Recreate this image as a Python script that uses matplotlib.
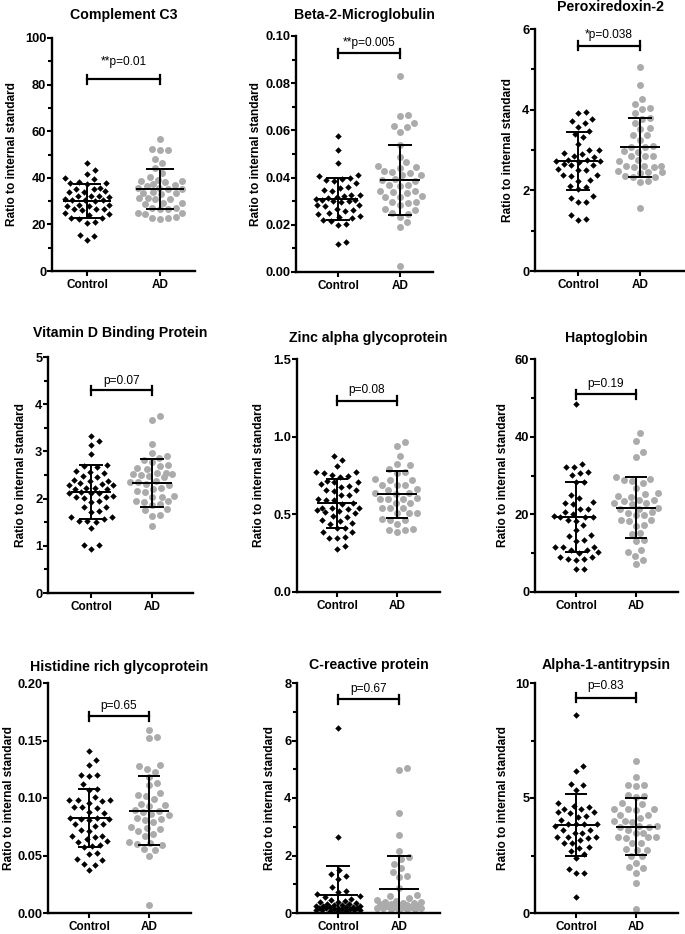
import numpy as np
import matplotlib
matplotlib.use("Agg")
import matplotlib.pyplot as plt
from matplotlib.ticker import MultipleLocator, FormatStrFormatter

plt.rcParams['font.family'] = ['Liberation Sans', 'DejaVu Sans']

#
# DATA
#
groups = ["Control", "AD"]
titles = ["Complement C3", "Beta-2-Microglobulin", "Peroxiredoxin-2",
          "Vitamin D Binding Protein", "Zinc alpha glycoprotein", "Haptoglobin",
          "Histidine rich glycoprotein", "C-reactive protein", "Alpha-1-antitrypsin"]
p_labels = ["**p=0.01", "**p=0.005", "*p=0.038", "p=0.07", "p=0.08",
            "p=0.19", "p=0.65", "p=0.67", "p=0.83"]

c3_control = [46.3, 43.4, 41.8, 39.8, 39.5, 38.2, 37.8, 37.5, 37.9, 35.6, 35.2,
              35.4, 34.0, 33.8, 34.2, 32.2, 32.0, 31.8, 32.4, 30.6, 30.3, 30.5,
              30.8, 30.1, 28.3, 28.0, 27.8, 28.5, 26.5, 26.2, 26.8, 26.4, 24.8,
              24.5, 24.2, 22.7, 22.4, 22.9, 20.8, 21.0, 15.3, 15.1, 13.1]
c3_ad = [56.7, 52.4, 51.8, 51.9, 48.0, 46.3, 44.2, 42.0, 40.5, 38.8, 38.6, 38.9,
         38.2, 37.0, 36.6, 37.3, 35.6, 35.3, 35.8, 35.1, 34.0, 33.4, 33.6, 33.1,
         31.5, 31.2, 30.8, 31.0, 29.3, 29.0, 28.7, 27.2, 26.8, 26.5, 27.0, 25.0,
         24.6, 24.8, 23.2, 22.6, 22.4, 22.8]

b2m_control = [0.0577, 0.0516, 0.0463, 0.0412, 0.0408, 0.0399, 0.0396, 0.0388,
               0.0384, 0.0376, 0.0362, 0.0358, 0.0348, 0.0345, 0.0328, 0.0325,
               0.0322, 0.0318, 0.0315, 0.0309, 0.0306, 0.0304, 0.0302, 0.0299,
               0.0296, 0.0286, 0.0283, 0.0279, 0.0266, 0.0262, 0.0258, 0.0249,
               0.0246, 0.0236, 0.0232, 0.0228, 0.0219, 0.0216, 0.0203, 0.0198,
               0.0127, 0.0118]
b2m_ad = [0.0832, 0.0667, 0.0663, 0.0632, 0.0620, 0.0615, 0.0594, 0.0537, 0.0488,
          0.0465, 0.0448, 0.0444, 0.0442, 0.0427, 0.0424, 0.0421, 0.0411, 0.0409,
          0.0392, 0.0389, 0.0387, 0.0370, 0.0366, 0.0368, 0.0345, 0.0342, 0.0338,
          0.0336, 0.0320, 0.0316, 0.0318, 0.0298, 0.0296, 0.0294, 0.0284, 0.0266,
          0.0262, 0.0248, 0.0245, 0.0234, 0.0210, 0.0191, 0.0025]

prx2_control = [3.94, 3.91, 3.78, 3.73, 3.68, 3.58, 3.46, 3.39, 3.32, 3.16, 3.01,
                2.99, 2.93, 2.91, 2.84, 2.82, 2.75, 2.74, 2.72, 2.73, 2.71, 2.65,
                2.63, 2.62, 2.53, 2.51, 2.50, 2.39, 2.37, 2.36, 2.26, 2.24, 2.11,
                2.08, 2.04, 1.85, 1.82, 1.72, 1.70, 1.38, 1.29, 1.27]
prx2_ad = [5.05, 4.61, 4.27, 4.14, 4.04, 4.02, 3.91, 3.80, 3.78, 3.68, 3.55, 3.52,
           3.38, 3.36, 3.25, 3.09, 3.07, 3.08, 2.97, 2.95, 2.86, 2.84, 2.85, 2.74,
           2.72, 2.61, 2.60, 2.59, 2.61, 2.58, 2.47, 2.45, 2.46, 2.44, 2.35, 2.33,
           2.34, 2.22, 2.20, 1.55]

vdbp_control = [3.33, 3.22, 3.14, 2.95, 2.71, 2.69, 2.67, 2.58, 2.56, 2.55, 2.47,
                2.45, 2.40, 2.38, 2.37, 2.32, 2.31, 2.29, 2.28, 2.23, 2.22, 2.21,
                2.20, 2.13, 2.12, 2.12, 2.11, 2.04, 2.03, 2.05, 2.02, 1.94, 1.93,
                1.83, 1.82, 1.74, 1.72, 1.62, 1.60, 1.57, 1.53, 1.52, 1.51, 1.37,
                1.02, 1.01, 0.93]
vdbp_ad = [3.74, 3.66, 3.15, 2.96, 2.91, 2.87, 2.82, 2.78, 2.72, 2.70, 2.64, 2.62,
           2.55, 2.54, 2.53, 2.52, 2.51, 2.47, 2.45, 2.37, 2.36, 2.35, 2.31, 2.29,
           2.23, 2.21, 2.16, 2.14, 2.05, 2.04, 2.03, 1.95, 1.94, 1.93, 1.88, 1.86,
           1.77, 1.75, 1.66, 1.64, 1.42]

zag_control = [0.873, 0.852, 0.810, 0.775, 0.772, 0.768, 0.755, 0.748, 0.742,
               0.712, 0.708, 0.705, 0.698, 0.682, 0.678, 0.657, 0.655, 0.652,
               0.626, 0.622, 0.597, 0.594, 0.592, 0.572, 0.568, 0.542, 0.540,
               0.538, 0.536, 0.527, 0.524, 0.512, 0.508, 0.488, 0.485, 0.462,
               0.459, 0.441, 0.438, 0.413, 0.410, 0.387, 0.384, 0.354, 0.348,
               0.346, 0.298, 0.277]
zag_ad = [0.963, 0.942, 0.873, 0.824, 0.815, 0.792, 0.772, 0.768, 0.725, 0.722,
          0.720, 0.692, 0.690, 0.688, 0.660, 0.657, 0.640, 0.637, 0.634, 0.602,
          0.600, 0.598, 0.596, 0.575, 0.571, 0.542, 0.540, 0.538, 0.511, 0.508,
          0.506, 0.468, 0.465, 0.462, 0.440, 0.403, 0.400, 0.398, 0.386]

hp_control = [48.4, 32.9, 32.3, 32.2, 31.0, 30.6, 30.1, 28.4, 28.3, 25.0, 24.1,
              23.2, 22.8, 22.6, 21.5, 21.3, 20.7, 20.2, 19.5, 19.4, 19.3, 19.2,
              18.6, 18.4, 17.2, 15.9, 14.6, 14.5, 13.3, 13.2, 11.7, 11.6, 11.5,
              10.9, 10.7, 10.2, 10.0, 9.1, 8.9, 8.6, 8.2, 8.4, 6.0, 5.9]
hp_ad = [40.9, 39.0, 36.0, 34.7, 29.7, 29.2, 28.9, 28.6, 28.0, 26.7, 25.5, 25.3,
         24.6, 24.4, 23.8, 23.7, 23.5, 22.9, 22.8, 22.6, 21.6, 21.5, 21.3, 20.6,
         20.4, 19.9, 19.7, 18.6, 18.5, 18.3, 17.3, 17.1, 15.2, 15.0, 13.4, 13.2,
         10.8, 10.3, 9.2, 8.3, 7.1]

hrg_control = [0.141, 0.133, 0.129, 0.120, 0.120, 0.119, 0.112, 0.108, 0.107,
               0.101, 0.098, 0.098, 0.097, 0.098, 0.096, 0.092, 0.092, 0.091,
               0.088, 0.087, 0.083, 0.082, 0.082, 0.083, 0.081, 0.077, 0.076,
               0.077, 0.072, 0.071, 0.067, 0.067, 0.066, 0.064, 0.063, 0.062,
               0.059, 0.058, 0.057, 0.052, 0.051, 0.047, 0.046, 0.043, 0.042,
               0.037]
hrg_ad = [0.159, 0.153, 0.152, 0.129, 0.128, 0.125, 0.123, 0.118, 0.113, 0.111,
          0.104, 0.103, 0.102, 0.099, 0.095, 0.094, 0.093, 0.090, 0.089, 0.088,
          0.086, 0.085, 0.083, 0.082, 0.081, 0.079, 0.075, 0.074, 0.073, 0.071,
          0.069, 0.067, 0.062, 0.061, 0.060, 0.059, 0.056, 0.055, 0.050, 0.007]

crp_control = [6.45, 2.64, 1.48, 1.35, 1.30, 1.20, 0.92, 0.78, 0.72, 0.66, 0.58,
               0.55, 0.48, 0.44, 0.42, 0.40, 0.38, 0.36, 0.32, 0.30, 0.29, 0.27,
               0.26, 0.25, 0.24, 0.22, 0.21, 0.20, 0.19, 0.18, 0.17, 0.16, 0.15,
               0.14, 0.13, 0.12, 0.11, 0.10, 0.09, 0.08, 0.07, 0.06]
crp_ad = [5.05, 4.99, 3.48, 2.72, 2.16, 1.95, 1.88, 1.72, 1.55, 1.44, 1.27, 1.25,
          0.86, 0.61, 0.59, 0.52, 0.46, 0.42, 0.40, 0.38, 0.36, 0.34, 0.32, 0.30,
          0.29, 0.27, 0.25, 0.24, 0.22, 0.21, 0.20, 0.18, 0.17, 0.16, 0.15, 0.14,
          0.13, 0.12]

a1at_control = [8.61, 6.38, 6.16, 5.63, 5.56, 5.34, 4.80, 4.64, 4.62, 4.54, 4.52,
                4.38, 4.37, 4.35, 4.21, 4.19, 4.05, 3.88, 3.87, 3.86, 3.85, 3.77,
                3.63, 3.61, 3.49, 3.47, 3.31, 3.30, 3.29, 3.28, 3.19, 3.06, 3.04,
                2.85, 2.83, 2.69, 2.55, 2.41, 1.93, 1.74, 1.72, 0.69]
a1at_ad = [6.63, 5.92, 5.58, 5.55, 5.52, 5.13, 5.10, 5.06, 4.78, 4.75, 4.54, 4.53,
           4.52, 4.50, 4.28, 4.26, 4.13, 3.99, 3.97, 3.98, 3.78, 3.77, 3.76, 3.75,
           3.62, 3.49, 3.47, 3.31, 3.30, 3.29, 3.28, 3.06, 3.04, 2.78, 2.76, 2.75,
           2.49, 2.46, 2.19, 1.98, 1.97, 1.76, 1.30, 0.19]

control_values = [c3_control, b2m_control, prx2_control, vdbp_control,
                  zag_control, hp_control, hrg_control, crp_control, a1at_control]
ad_values = [c3_ad, b2m_ad, prx2_ad, vdbp_ad, zag_ad, hp_ad, hrg_ad, crp_ad,
             a1at_ad]

# mean and SD bars as drawn in the figure
mean_control = [29.9, 0.0308, 2.735, 2.14, 0.570, 19.3, 0.0827, 0.61, 3.82]
sd_control = [7.35, 0.0089, 0.715, 0.57, 0.158, 9.1, 0.0253, 1.01, 1.34]
mean_ad = [35.2, 0.0391, 3.07, 2.335, 0.629, 21.75, 0.089, 0.85, 3.76]
sd_ad = [8.6, 0.0148, 0.73, 0.505, 0.153, 7.95, 0.030, 1.15, 1.25]

bracket_y = [82.4, 0.0927, 5.58, 4.30, 1.232, 50.9, 0.171, 7.44, 9.35]
y_max = [100, 0.10, 6, 5, 1.5, 60, 0.20, 8, 10]
major_step = [20, 0.02, 2, 1, 0.5, 20, 0.05, 2, 5]
minor_step = [10, 0.01, 1, 0.5, None, 10, None, 1, 2.5]
decimals = [0, 2, 0, 0, 1, 0, 2, 0, 0]

#
# LAYOUT (pixels in a 685 x 934 image)
#
W, H = 685, 934
# left, right, top, bottom of each plot area; x of the two categories
boxes = [(52, 195, 38, 271), (296, 433, 36, 272), (535, 685, 29, 271),
         (48, 193, 357, 593), (297, 440, 359, 592), (535, 678, 359, 592),
         (48, 191, 683, 913), (297, 440, 683, 913), (535, 678, 683, 913)]
cat_px = [(87, 160), (338, 400), (578, 640),
          (91, 152), (337, 397), (576, 636),
          (89, 149), (338, 399), (576, 636)]
title_px = [15, 15, 7, 333, 338, 338, 667, 665, 665]
ylabel_px = [12, 256, 508, 21, 259, 503, 9, 270, 503]
p_gap_px = [17, 10, 11, 9, 10.5, 10, 10, 10, 12]

gray = "#ababab"


def swarm_offsets(vals, px_per_unit, diameter=8.0, max_half=22):
    # beeswarm: each point takes the closest free x slot, or the least crowded
    y = np.asarray(vals) * px_per_unit
    order = np.argsort(y)
    xs = np.zeros(len(y))
    cands = [0.0]
    for k in range(1, max_half + 1):
        cands += [float(k), float(-k)]
    px, py = [], []
    for i in order:
        ax_ = np.array(px)
        ay_ = np.array(py)
        near = np.abs(ay_ - y[i]) < diameter if len(ay_) else np.zeros(0, bool)
        best, best_d = 0.0, -1.0
        for c in cands:
            if near.any():
                d = np.min(np.hypot(ax_[near] - c, ay_[near] - y[i]))
            else:
                d = np.inf
            if d >= diameter:
                best = c
                break
            if d > best_d:
                best, best_d = c, d
        xs[i] = best
        px.append(best)
        py.append(y[i])
    return xs


fig = plt.figure(figsize=(W / 100, H / 100), dpi=100)

for k in range(9):
    L, R, T, B = boxes[k]
    c0, c1 = cat_px[k]
    unit = c1 - c0
    ax = fig.add_axes([L / W, 1 - B / H, (R - L) / W, (B - T) / H])
    ax.set_xlim((L - c0) / unit, (R - c0) / unit)
    ax.set_ylim(0, y_max[k])
    ypx = (B - T) / y_max[k]

    # points
    for g, vals in enumerate([control_values[k], ad_values[k]]):
        off = swarm_offsets(vals, ypx) / unit
        if g == 0:
            ax.plot(g + off, vals, 'D', ms=3.3, color='black', mew=0, zorder=2)
        else:
            ax.plot(g + off, vals, 'o', ms=5.0, color=gray, mew=0, zorder=2)

    # mean +- SD
    for g, (m, s) in enumerate([(mean_control[k], sd_control[k]),
                                (mean_ad[k], sd_ad[k])]):
        ax.hlines(m, g - 0.33, g + 0.33, color='black', lw=1.4, zorder=3)
        ax.vlines(g, m - s, m + s, color='black', lw=1.4, zorder=3)
        ax.hlines([m - s, m + s], g - 0.19, g + 0.19, color='black', lw=1.4,
                  zorder=3)

    # significance bracket
    yb = bracket_y[k]
    cap = 4.5 / ypx
    ax.plot([0, 1], [yb, yb], color='black', lw=1.6, clip_on=False)
    ax.plot([0, 0], [yb - cap, yb + cap], color='black', lw=1.6, clip_on=False)
    ax.plot([1, 1], [yb - cap, yb + cap], color='black', lw=1.6, clip_on=False)
    ax.annotate(p_labels[k], xy=(0.5, yb), xytext=(0, p_gap_px[k] * 0.72),
                textcoords='offset points', ha='center', va='center',
                fontsize=8.6)

    # axes styling
    for side in ['top', 'right']:
        ax.spines[side].set_visible(False)
    for side in ['left', 'bottom']:
        ax.spines[side].set_linewidth(1.7)
    ax.set_xticks([0, 1])
    ax.set_xticklabels(groups, fontsize=8.5, fontweight='bold')
    ax.yaxis.set_major_locator(MultipleLocator(major_step[k]))
    ax.yaxis.set_major_formatter(FormatStrFormatter('%.' + str(decimals[k]) + 'f'))
    if minor_step[k] is not None:
        ax.yaxis.set_minor_locator(MultipleLocator(minor_step[k]))
    ax.tick_params(axis='y', which='major', length=3.3, width=1.5, pad=0.8,
                   labelsize=9.3)
    ax.tick_params(axis='y', which='minor', length=2.6, width=1.5)
    ax.tick_params(axis='x', length=3.6, width=1.5, pad=2.5)
    for lab in ax.get_yticklabels():
        lab.set_fontweight('bold')
    ax.set_ylabel("Ratio to internal standard", fontsize=8.6, fontweight='bold',
                  va='center')
    ax.yaxis.set_label_coords((ylabel_px[k] - L) / (R - L), 0.5)

    # title centred over the plot area
    fig.text((L + R) / 2 / W, 1 - title_px[k] / H, titles[k], ha='center',
             va='center', fontsize=10.2, fontweight='bold')

fig.savefig("out.png", dpi=100)
